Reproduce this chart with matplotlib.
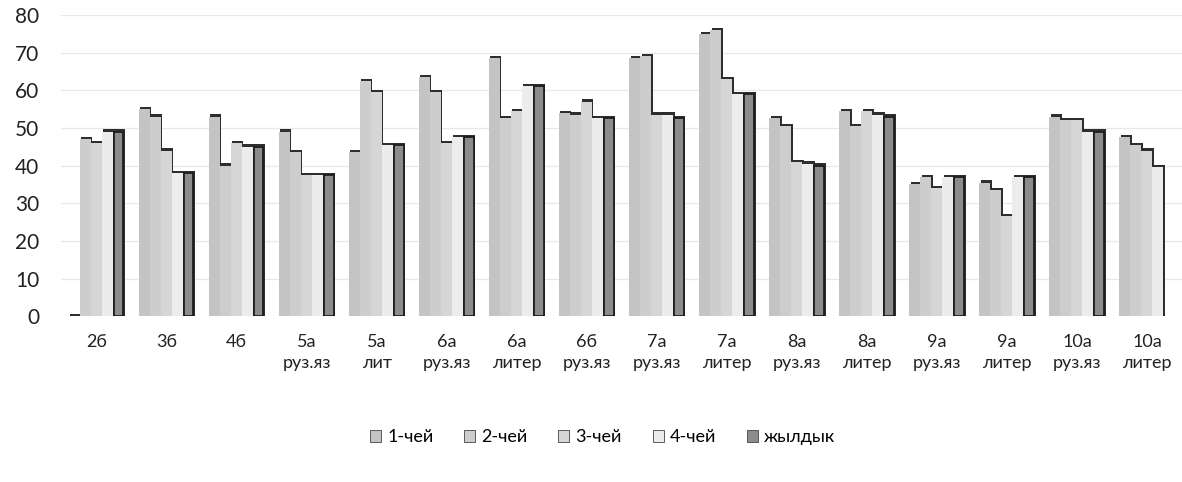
import numpy as np
import matplotlib
matplotlib.use('Agg')
import matplotlib.pyplot as plt

plt.rcParams['font.family'] = ['Lato', 'DejaVu Sans']

classes = ['2б', '3б', '4б', '5а\nруз.яз', '5а\nлит', '6а\nруз.яз', '6а\nлитер', '6б\nруз.яз',
           '7а\nруз.яз', '7а\nлитер', '8а\nруз.яз', '8а\nлитер', '9а\nруз.яз', '9а\nлитер',
           '10а\nруз.яз', '10а\nлитер']
series_names = ['1-чей', '2-чей', '3-чей', '4-чей', 'жылдык']

q1 = [0, 55, 53, 49, 43.5, 63.5, 68.5, 54, 68.5, 75, 52.5, 54.5, 35, 35.5, 53, 47.5]
q2 = [47, 53, 40, 43.5, 62.5, 59.5, 52.5, 53.5, 69, 76, 50.5, 50.5, 37, 33.5, 52, 45.5]
q3 = [46, 44, 46, 37.5, 59.5, 46, 54.5, 57, 53.5, 63, 41, 54.5, 34, 26.5, 52, 44]
q4 = [49, 38, 45, 37.5, 45.5, 47.5, 61, 52.5, 53.5, 59, 40.5, 53.5, 37, 37, 49, 39.5]
year = [49, 38, 45, 37.5, 45.5, 47.5, 61, 52.5, 52.5, 59, 40, 53, 37, 37, 49, np.nan]

series = [q1, q2, q3, q4, year]
colors = ['#c4c4c4', '#cdcdcd', '#d6d6d6', '#ececec', '#8c8c8c']

fig = plt.figure(figsize=(11.82, 4.82), dpi=100)
ax = fig.add_axes([0.052, 0.344, 0.948, 0.625])

x = np.arange(len(classes))
w = 0.157
handles = []
for i, (vals, c) in enumerate(zip(series, colors)):
    pos = x + (i - 2) * w
    vals = np.array(vals, dtype=float)
    # dark shadow gives the stepped outline on the top/right edges
    ax.bar(pos + 0.018, vals + 0.6, width=w, color='#2e2e2e', linewidth=0, zorder=2)
    if i == 4:
        b = ax.bar(pos, vals, width=w * 0.9, color=c, edgecolor='#1e1e1e', linewidth=1.3,
                   zorder=3, label=series_names[i])
    else:
        b = ax.bar(pos, vals, width=w, color=c, linewidth=0, zorder=3, label=series_names[i])
    handles.append(b)

ax.set_xlim(-0.5, len(classes) - 0.5)
ax.set_ylim(0, 80)
ax.set_yticks(range(0, 81, 10))
ax.set_xticks(x)
ax.set_xticklabels(classes, fontsize=13, linespacing=1.35, color='#222222')
ax.tick_params(axis='y', labelsize=15, length=0, pad=16, colors='#222222')
ax.tick_params(axis='x', length=0, pad=13)
for s in ax.spines.values():
    s.set_visible(False)
ax.yaxis.grid(True, color='#eee6e6', linewidth=0.9, zorder=0)
ax.set_axisbelow(True)

leg = fig.legend(handles=handles, loc='center', bbox_to_anchor=(0.51, 0.093), ncol=5,
                 frameon=False, fontsize=13, handlelength=0.6, handleheight=0.6,
                 handletextpad=0.35, columnspacing=1.7)
for h in leg.legend_handles:
    h.set_edgecolor('#444444')
    h.set_linewidth(0.6)

fig.savefig('out.png', dpi=100)
